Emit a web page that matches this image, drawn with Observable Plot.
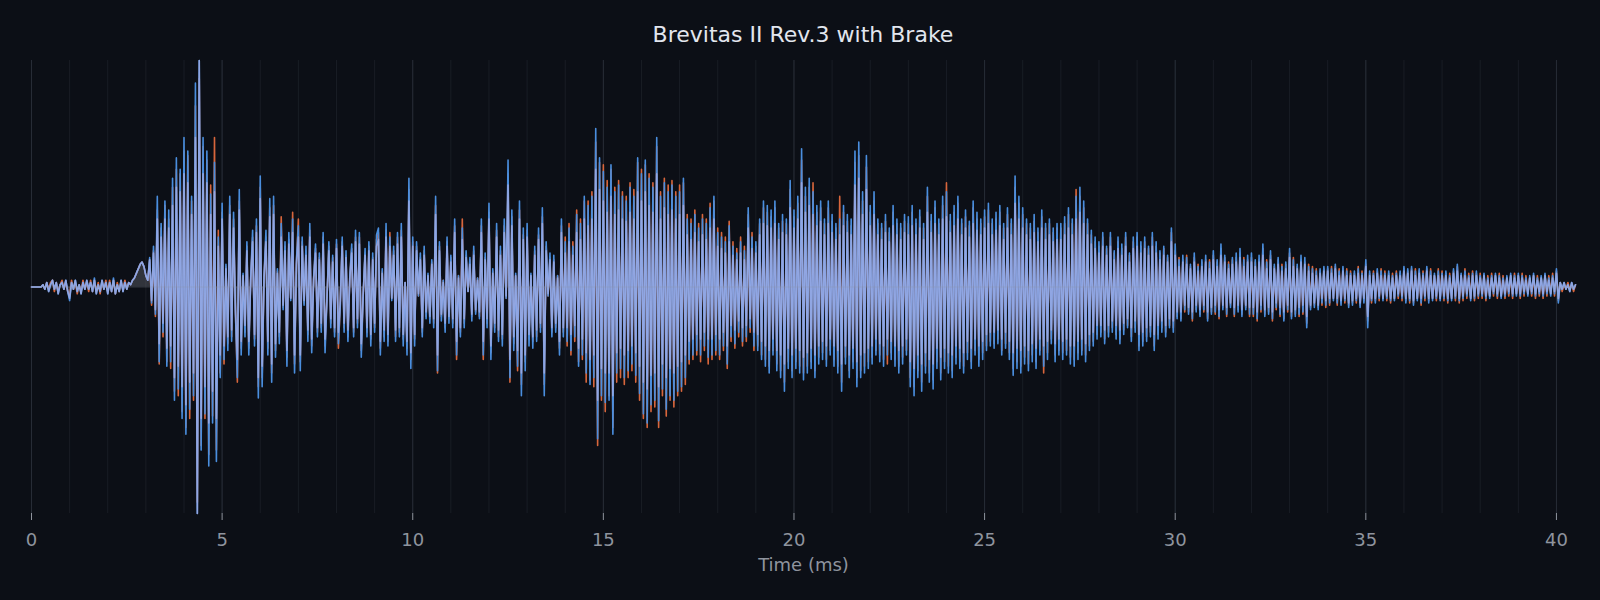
<!DOCTYPE html>
<html><head><meta charset="utf-8">
<script src="https://cdn.jsdelivr.net/npm/d3@7"></script>
<script src="https://cdn.jsdelivr.net/npm/@observablehq/plot@0.6"></script>
<style>
html,body{margin:0;padding:0;background:#0c0f16;}
#wrap{width:1600px;height:600px;background:#0c0f16;font-family:"DejaVu Sans",sans-serif;}
#title{height:60px;box-sizing:border-box;padding-top:22px;padding-left:6px;line-height:26px;font-size:22px;color:#e2e6ee;text-align:center;}
</style></head><body>
<div id="wrap"><div id="title">Brevitas II Rev.3 with Brake</div><div id="chart"></div></div>
<script>
// sampling interval of the recorded waveform (ms)
const sampleStepMs = 0.05;
const xTicks = [0, 5, 10, 15, 20, 25, 30, 35, 40];
const gridTicks = [0,1,2,3,4,5,6,7,8,9,10,11,12,13,14,15,16,17,18,19,20,21,22,23,24,25,26,27,28,29,30,31,32,33,34,35,36,37,38,39,40];

// blue channel, one row per millisecond (20 samples each)
const blue = [
0,0,0,0,0,0,1,-1,2,-2,1,3,-1,2,-3,1,2,-1,3,-2,
-6,2,-1,3,-2,1,-3,2,-1,3,-1,2,-2,4,-3,1,-2,3,-1,2,
-3,2,-2,4,-3,1,-2,3,-2,2,-1,2,1,3,4,6,8,10,11,9,
5,3,13,-7,18,-12,40,-33,28,-20,38,-35,34,-33,48,-50,57,-45,52,-58,
66,-65,60,-54,40,-48,90,-100,100,-72,66,-56,60,-79,41,-60,55,-77,22,-40,
37,-32,10,-28,40,-24,33,-12,-40,43,-30,6,-22,20,-30,4,25,-26,30,-49,
49,-44,5,25,-30,39,-42,40,-31,8,-25,28,-10,20,-35,24,-6,30,-38,12,
27,-37,22,-8,18,-24,28,-29,4,19,-22,15,-20,24,-29,-6,20,-18,14,-22,
21,-25,-8,22,-20,16,-24,5,19,-22,25,-18,24,-31,-4,17,-22,20,-26,15,
-20,23,26,-30,8,-24,28,-26,22,-6,18,-24,24,-22,28,-26,2,-30,48,-36,
22,-26,20,-4,15,-22,18,-14,6,-16,12,-18,40,-37,20,-15,3,-20,22,-16,
14,-18,30,-30,5,-22,26,-18,16,-2,13,-15,18,-12,4,-14,30,-30,15,-18,
37,-32,8,-20,28,-24,18,-26,30,-5,56,-40,34,-28,6,-35,38,-48,26,-37,
28,-26,6,-27,18,-24,26,-20,35,-48,20,-4,15,-22,14,-20,5,-30,30,-22,
20,-24,26,-28,18,-22,32,-35,28,-30,40,-38,36,-43,40,-40,70,-67,57,-48,
51,-51,44,-50,54,-65,42,-38,45,-36,40,-40,38,-37,44,-34,40,-39,57,-47,
50,-56,56,-60,48,-52,44,-50,66,-59,40,-45,46,-54,42,-48,45,-50,40,-46,
42,-44,48,-40,30,-32,28,-30,32,-28,26,-30,30,-26,28,-31,35,-30,40,-28,
24,-30,22,-26,20,-34,27,-22,18,-25,15,-20,20,-24,16,-22,35,-18,22,-26,
20,-28,30,-32,38,-35,36,-38,34,-30,38,-37,28,-40,32,-46,30,-36,47,-40,
34,-36,40,-38,61,-41,44,-38,48,-36,42,-40,36,-34,38,-32,30,-35,38,-30,
32,-35,28,-38,30,-46,36,-34,32,-40,30,-36,60,-44,64,-40,42,-38,58,-36,
36,-34,42,-30,30,-33,28,-35,32,-30,26,-32,36,-35,30,-38,28,-34,32,-30,
31,-44,36,-48,30,-40,34,-46,28,-38,44,-42,32,-45,38,-36,30,-41,40,-36,
42,-38,32,-40,36,-34,40,-36,30,-38,34,-32,29,-36,38,-30,33,-35,30,-32,
34,-28,37,-26,30,-27,33,-25,36,-30,28,-27,35,-32,30,-39,49,-36,40,-38,
35,-34,30,-37,28,-33,32,-36,26,-30,34,-35,28,-32,30,-25,26,-33,28,-30,
28,-32,31,-30,35,-34,30,-35,40,-32,44,-30,38,-33,30,-28,25,-26,22,-23,
20,-22,24,-25,18,-22,24,-20,16,-23,22,-25,19,-21,24,-18,15,-24,22,-20,
24,-28,20,-26,22,-24,18,-22,24,-28,20,-23,16,-20,18,-22,14,-18,26,-20,
19,-14,12,-15,14,-10,13,-12,10,-14,15,-11,9,-13,12,-10,14,-15,11,-12,
16,-11,12,-13,19,-10,14,-12,10,-9,13,-12,15,-11,17,-13,12,-10,14,-12,
15,-12,12,-14,14,-10,19,-13,11,-12,16,-14,10,-9,13,-12,9,-15,11,-10,
17,-14,12,-13,10,-12,14,-11,13,-18,9,-10,8,-9,7,-10,8,-7,9,-8,
9,-7,8,-6,10,-7,7,-8,9,-6,7,-9,6,-8,7,-6,8,-9,6,-7,
12,-18,7,-6,6,-7,8,-5,7,-6,6,-5,7,-6,5,-6,6,-4,7,-5,
9,-7,8,-6,9,-8,7,-6,8,-7,6,-5,9,-7,7,-6,6,-5,7,-6,
6,-5,7,-6,5,-6,8,-5,10,-6,6,-5,7,-4,5,-6,6,-5,7,-4,
5,-4,6,-5,4,-5,5,-3,6,-4,5,-5,4,-4,5,-3,6,-4,5,-4,
6,-4,5,-3,4,-4,5,-3,6,-4,4,-3,5,-4,6,-3,4,-4,5,-3,
8,-7,2,-1,2,-1,1,-2,2,-1,1
];

// orange channel
const orange = [
0,0,0,0,0,0,1,-1,2,-1,2,3,-2,2,-2,1,3,-1,2,-2,
-4,3,-1,2,-3,1,-2,3,-1,2,-2,3,-2,3,-2,2,-3,2,-1,3,
-2,3,-2,3,-3,2,-2,2,-1,3,-1,2,1,3,4,6,8,10,11,9,
5,3,12,-8,16,-13,34,-34,26,-22,36,-33,30,-36,44,-46,52,-48,50,-55,
60,-62,58,-58,38,-50,80,-95,92,-70,62,-58,56,-74,45,-57,66,-72,25,-38,
33,-34,9,-25,36,-22,30,-11,-42,38,-27,5,-20,18,-27,4,22,-23,27,-44,
44,-40,5,22,-27,35,-38,36,-28,7,-22,31,-9,18,-31,21,-5,33,-34,11,
30,-33,20,-7,16,-21,25,-26,4,17,-20,13,-18,22,-26,-5,18,-16,13,-20,
19,-27,-7,20,-18,14,-22,5,17,-20,22,-16,22,-28,-4,15,-20,18,-23,13,
-18,21,24,-27,7,-22,25,-24,24,-5,16,-22,22,-20,25,-23,2,-27,43,-32,
20,-23,18,-4,13,-20,16,-13,5,-14,11,-16,36,-38,18,-13,3,-18,20,-14,
13,-16,27,-32,5,-20,30,-16,14,-2,12,-13,16,-11,4,-13,27,-32,13,-16,
33,-29,7,-18,25,-22,16,-23,27,-5,50,-42,31,-25,5,-37,34,-43,23,-33,
25,-23,5,-24,16,-22,23,-18,31,-43,18,-4,13,-20,12,-18,5,-27,27,-20,
22,-26,28,-30,20,-24,34,-33,30,-32,38,-42,38,-41,42,-44,64,-70,55,-50,
54,-55,47,-48,52,-62,44,-42,47,-40,42,-43,40,-40,46,-37,43,-42,55,-50,
52,-58,54,-62,50,-55,46,-53,62,-62,42,-48,48,-57,45,-50,47,-53,42,-48,
45,-46,46,-43,32,-34,30,-32,34,-30,28,-33,32,-28,30,-34,37,-32,38,-30,
26,-32,24,-28,22,-36,29,-24,20,-27,17,-22,22,-26,18,-24,32,-20,24,-28,
18,-26,28,-30,35,-32,33,-35,31,-28,35,-34,26,-37,29,-42,28,-33,43,-37,
31,-33,37,-35,56,-38,40,-35,44,-33,46,-37,33,-31,35,-29,28,-32,35,-28,
29,-32,26,-35,40,-42,33,-31,29,-37,27,-33,55,-40,58,-37,38,-35,53,-33,
33,-31,38,-28,28,-30,26,-32,29,-34,24,-29,33,-32,28,-35,26,-31,29,-28,
28,-40,33,-44,28,-37,31,-42,26,-35,40,-38,29,-41,35,-33,28,-38,36,-33,
46,-35,29,-37,33,-31,37,-33,28,-35,31,-29,27,-33,35,-28,30,-32,28,-29,
31,-26,34,-24,28,-25,30,-23,33,-28,26,-25,32,-29,28,-36,44,-33,37,-35,
32,-31,28,-34,26,-30,29,-33,24,-28,31,-38,26,-29,28,-23,24,-30,26,-28,
26,-29,28,-28,32,-31,28,-32,43,-29,40,-28,35,-30,28,-26,23,-24,20,-21,
18,-20,22,-23,17,-20,22,-18,15,-21,20,-23,17,-19,22,-17,14,-22,20,-18,
22,-26,18,-24,20,-22,17,-20,22,-26,18,-21,15,-18,17,-20,13,-17,24,-18,
16,-13,13,-14,12,-11,14,-11,9,-15,13,-10,10,-12,11,-11,12,-14,12,-11,
14,-12,11,-14,17,-9,13,-13,11,-8,12,-13,13,-10,15,-12,13,-9,12,-13,
13,-13,11,-15,12,-11,17,-12,12,-11,14,-15,9,-10,12,-13,10,-14,10,-11,
15,-13,13,-12,9,-13,12,-12,11,-16,10,-9,9,-8,8,-9,7,-8,8,-9,
8,-8,9,-5,9,-8,8,-7,8,-7,8,-8,7,-7,6,-7,9,-8,7,-6,
10,-15,6,-7,7,-6,7,-6,8,-5,7,-6,6,-7,6,-5,7,-5,6,-6,
8,-6,7,-7,8,-7,8,-5,7,-8,7,-6,8,-6,8,-5,5,-6,8,-5,
7,-6,6,-7,6,-5,7,-6,9,-7,5,-6,8,-5,6,-5,7,-6,6,-5,
6,-5,5,-6,5,-4,6,-4,5,-5,6,-4,5,-5,4,-4,5,-5,6,-3,
5,-5,6,-4,5,-3,4,-4,5,-5,5,-4,4,-5,5,-4,5,-3,6,-4,
7,-6,2,-2,1,-1,2,-1,1,-2,1
];

// lavender channel (drawn on top)
const lavender = [
0,0,0,0,0,0,1,-1,2,-2,1,3,-1,2,-3,1,2,-1,3,-2,
-5,2,-1,3,-2,1,-3,2,-1,3,-1,2,-2,3,-3,1,-2,3,-1,2,
-3,2,-2,3,-3,1,-2,3,-2,2,-1,2,1,3,4,6,8,10,11,9,
5,3,12,-6,15,-10,30,-25,22,-16,30,-27,26,-26,36,-40,44,-35,42,-44,
50,-52,46,-42,32,-38,66,-100,100,-58,50,-44,46,-60,32,-46,42,-58,18,-30,
30,-26,8,-22,32,-19,26,-10,-32,34,-24,5,-17,16,-24,3,20,-21,24,-40,
39,-35,4,20,-24,31,-34,32,-25,6,-20,22,-8,16,-28,19,-5,24,-30,10,
22,-30,18,-6,14,-19,22,-23,3,15,-18,12,-16,19,-23,-5,16,-14,11,-18,
17,-20,-6,18,-16,13,-19,4,15,-18,20,-14,19,-25,-3,14,-18,16,-21,12,
-16,18,21,-24,6,-19,22,-21,18,-5,14,-19,19,-18,22,-21,2,-24,38,-29,
18,-21,16,-3,12,-18,14,-11,5,-13,10,-14,32,-30,16,-12,2,-16,18,-13,
11,-14,24,-24,4,-18,21,-14,13,-2,10,-12,14,-10,3,-11,24,-24,12,-14,
30,-26,6,-16,22,-19,14,-21,24,-4,45,-32,27,-22,5,-28,30,-38,21,-30,
22,-21,5,-22,14,-19,21,-16,28,-38,16,-3,12,-18,11,-16,4,-24,24,-18,
15,-18,20,-21,14,-17,24,-27,21,-23,30,-29,27,-32,30,-30,52,-50,43,-36,
38,-38,33,-38,40,-48,32,-29,34,-27,30,-30,29,-28,33,-26,30,-29,42,-35,
38,-42,42,-45,36,-39,33,-38,50,-44,30,-34,35,-40,32,-36,34,-38,30,-35,
32,-33,36,-30,23,-24,21,-23,24,-21,20,-23,23,-20,21,-23,26,-23,30,-21,
18,-23,17,-20,15,-26,20,-17,14,-19,12,-15,15,-18,12,-17,26,-14,17,-20,
15,-21,23,-24,28,-26,27,-28,26,-23,28,-28,21,-30,24,-34,23,-27,35,-30,
26,-27,30,-28,46,-31,33,-29,36,-27,32,-30,27,-26,29,-24,23,-26,28,-23,
24,-26,21,-28,23,-34,27,-26,24,-30,23,-27,45,-33,48,-30,32,-29,43,-27,
27,-26,32,-23,23,-25,21,-26,24,-23,20,-24,27,-26,23,-28,21,-26,24,-23,
23,-33,27,-36,23,-30,26,-34,21,-29,33,-32,24,-34,28,-27,23,-31,30,-27,
31,-29,24,-30,27,-26,30,-27,23,-29,26,-24,22,-27,28,-23,25,-26,23,-24,
26,-21,28,-20,23,-20,25,-19,27,-23,21,-20,26,-24,23,-29,37,-27,30,-28,
26,-26,23,-28,21,-25,24,-27,20,-23,26,-26,21,-24,23,-19,20,-25,21,-23,
21,-24,23,-23,26,-26,23,-26,30,-24,33,-23,28,-25,23,-21,19,-20,17,-17,
15,-17,18,-19,14,-17,18,-15,12,-17,17,-19,14,-16,18,-14,11,-18,17,-15,
18,-21,15,-20,17,-18,14,-17,18,-21,15,-17,12,-15,14,-17,11,-14,20,-15,
14,-11,9,-11,11,-8,10,-9,8,-11,11,-8,7,-10,9,-8,11,-11,8,-9,
12,-8,9,-10,14,-8,11,-9,8,-7,10,-9,11,-8,13,-10,9,-8,11,-9,
11,-9,9,-11,11,-8,14,-10,8,-9,12,-11,8,-7,10,-9,7,-11,8,-8,
13,-11,9,-10,8,-9,11,-8,10,-13,7,-8,6,-7,5,-8,6,-5,7,-6,
7,-5,6,-5,8,-5,5,-6,7,-5,5,-7,5,-6,5,-5,6,-7,5,-5,
9,-13,5,-5,5,-5,6,-4,5,-5,5,-4,5,-5,4,-5,5,-3,5,-4,
7,-5,6,-5,7,-6,5,-5,6,-5,5,-4,7,-5,5,-5,5,-4,5,-5,
5,-4,5,-5,4,-5,6,-4,7,-5,5,-4,5,-3,4,-5,5,-4,5,-3,
4,-3,5,-4,3,-4,4,-2,5,-3,4,-4,3,-3,4,-2,5,-3,4,-3,
5,-3,4,-2,3,-3,4,-2,5,-3,3,-2,4,-3,5,-2,3,-3,4,-2,
6,-5,2,-1,2,-1,1,-2,2,-1,1
];

const n = Math.min(blue.length, orange.length, lavender.length);
const rows = [];
for (let i = 0; i < n; i++) {
  rows.push({t: +(i * sampleStepMs).toFixed(3), blue: blue[i], orange: orange[i], lavender: lavender[i]});
}

const chart = Plot.plot({
  width: 1600,
  height: 540,
  marginTop: 0,
  marginBottom: 87,
  marginLeft: 31,
  marginRight: 25,
  style: {background: "transparent", color: "#8f949e", fontFamily: "DejaVu Sans, sans-serif", fontSize: "18px", overflow: "visible"},
  x: {domain: [0, 40.5], ticks: xTicks, tickSize: 7, tickPadding: 13, label: null},
  y: {domain: [-100, 100], axis: null},
  marks: [
    Plot.ruleX(gridTicks, {stroke: "#191d25"}),
    Plot.ruleX(xTicks, {stroke: "#272c36"}),
    Plot.areaY(rows, {x: "t", y: "lavender", fill: "#a0a3b0", fillOpacity: 0.25}),
    Plot.lineY(rows, {x: "t", y: "orange", stroke: "#d8663c", strokeWidth: 1.6}),
    Plot.lineY(rows, {x: "t", y: "blue", stroke: "#4a8ede", strokeWidth: 1.6}),
    Plot.lineY(rows, {x: "t", y: "lavender", stroke: "#9caae4", strokeOpacity: 0.85, strokeWidth: 1.6}),
    Plot.ruleY([0], {stroke: "#9095a0", strokeOpacity: 0.3}),
    Plot.text(["Time (ms)"], {text: d => d, frameAnchor: "bottom", dy: 57, fill: "#8f949e", fontSize: 18})
  ]
});
document.getElementById("chart").appendChild(chart);
</script>
</body></html>
